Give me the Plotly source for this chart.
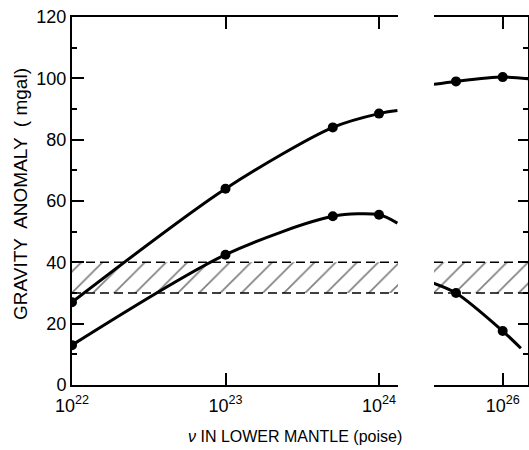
import plotly.graph_objects as go

# ---- data (viscosity in poise -> gravity anomaly, mgal) ----
nu_left_pts = [1e22, 1e23, 5e23, 1e24]
upper_left_pts = [27, 64, 84, 88.5]
lower_left_pts = [13, 42.5, 55, 55.5]

nu_left_curve = [1e22, 1e23, 5e23, 1e24, 10.0**24.12]
upper_left_curve = [27, 64, 84, 88.5, 89.5]
lower_left_curve = [13, 42.5, 55, 55.5, 52.8]

nu_right_pts = [5e25, 1e26]
upper_right_pts = [99, 100.4]
lower_right_pts = [30, 17.6]

nu_right_curve = [10.0**25.55, 5e25, 1e26, 10.0**26.17]
upper_right_curve = [98, 99, 100.4, 99.8]
nu_right_curve_low = [10.0**25.55, 5e25, 1e26, 10.0**26.117]
lower_right_curve = [33.3, 30, 17.6, 12]

band_low, band_high = 30, 40

left_range = [22.0, 24.124]
right_range = [25.557, 26.163]
left_ticks = [1e22, 1e23, 1e24]
left_ticktext = ["10<sup>22</sup>", "10<sup>23</sup>", "10<sup>24</sup>"]
right_ticks = [1e26]
right_ticktext = ["10<sup>26</sup>"]
y_ticks = [0, 20, 40, 60, 80, 100, 120]

FONT = "Liberation Sans"
LW = 3

fig = go.Figure()


def band(xaxis, yaxis, xr):
    x0, x1 = 10.0 ** xr[0], 10.0 ** xr[1]
    fig.add_trace(go.Scatter(
        x=[x0, x1, x1, x0, x0], y=[band_low, band_low, band_high, band_high, band_low],
        xaxis=xaxis, yaxis=yaxis, mode="lines", fill="toself",
        fillcolor="rgba(0,0,0,0)",
        fillpattern=dict(shape="/", size=15, solidity=0.11, fgcolor="black", bgcolor="white"),
        line=dict(width=0), hoverinfo="skip", showlegend=False))
    for yv in (band_low, band_high):
        fig.add_trace(go.Scatter(
            x=[x0, x1], y=[yv, yv], xaxis=xaxis, yaxis=yaxis, mode="lines",
            line=dict(color="black", width=1.5, dash="9px,5px"),
            hoverinfo="skip", showlegend=False))


band("x", "y", left_range)
band("x2", "y", right_range)


def curve(x, y, xaxis):
    fig.add_trace(go.Scatter(x=x, y=y, xaxis=xaxis, yaxis="y", mode="lines",
                             line=dict(color="black", width=LW, shape="spline", smoothing=0.8),
                             showlegend=False))


def pts(x, y, xaxis):
    fig.add_trace(go.Scatter(x=x, y=y, xaxis=xaxis, yaxis="y", mode="markers",
                             marker=dict(color="black", size=10), showlegend=False))


curve(nu_left_curve, upper_left_curve, "x")
curve(nu_left_curve, lower_left_curve, "x")
curve(nu_right_curve, upper_right_curve, "x2")
curve(nu_right_curve_low, lower_right_curve, "x2")
pts(nu_left_pts, upper_left_pts, "x")
pts(nu_left_pts, lower_left_pts, "x")
pts(nu_right_pts, upper_right_pts, "x2")
pts(nu_right_pts, lower_right_pts, "x2")

# dummy trace to show right y axis
fig.add_trace(go.Scatter(x=[1e26], y=[None], xaxis="x2", yaxis="y2", showlegend=False))

xcommon = dict(type="log", showline=True, linecolor="black", linewidth=2, mirror="ticks",
               ticks="inside", ticklen=12, tickwidth=1.5, tickcolor="black",
               showgrid=False, zeroline=False, ticklabelstandoff=3,
               tickfont=dict(family=FONT, size=18, color="black"))

fig.update_layout(
    width=529, height=450,
    margin=dict(l=72, r=1, t=17, b=65),
    paper_bgcolor="white", plot_bgcolor="white",
    showlegend=False,
    xaxis=dict(domain=[0, 0.715], range=left_range, tickvals=left_ticks,
               ticktext=left_ticktext, anchor="y", **xcommon),
    xaxis2=dict(domain=[0.7938, 1], range=right_range, tickvals=right_ticks,
                ticktext=right_ticktext, anchor="y", **xcommon),
    yaxis=dict(range=[0, 120], tickvals=y_ticks, showline=True, linecolor="black",
               linewidth=2, ticks="inside", ticklen=12, tickwidth=1.5, tickcolor="black",
               showgrid=False, zeroline=False, anchor="x",
               minor=dict(dtick=10, ticks="inside", ticklen=5, tickcolor="black", tickwidth=1.5),
               tickfont=dict(family=FONT, size=18, color="black")),
    yaxis2=dict(range=[0, 120], overlaying="y", side="right", anchor="x2",
                tickvals=y_ticks, showticklabels=False, showline=True, linecolor="black",
                linewidth=2, ticks="inside", ticklen=10, tickwidth=1.5, tickcolor="black",
                minor=dict(dtick=10, ticks="inside", ticklen=5, tickcolor="black", tickwidth=1.5),
                showgrid=False, zeroline=False),
    annotations=[
        dict(text="GRAVITY  ANOMALY  ( mgal)", xref="paper", yref="paper",
             x=-0.114, y=0.519, textangle=-90, showarrow=False,
             font=dict(family=FONT, size=19, color="black"),
             xanchor="center", yanchor="middle"),
        dict(text="<i>ν</i> IN LOWER MANTLE (poise)", xref="paper", yref="paper",
             x=0.49, y=-0.141, showarrow=False,
             font=dict(family=FONT, size=16, color="black"),
             xanchor="center", yanchor="middle"),
    ],
)

fig.write_html("out.html")
